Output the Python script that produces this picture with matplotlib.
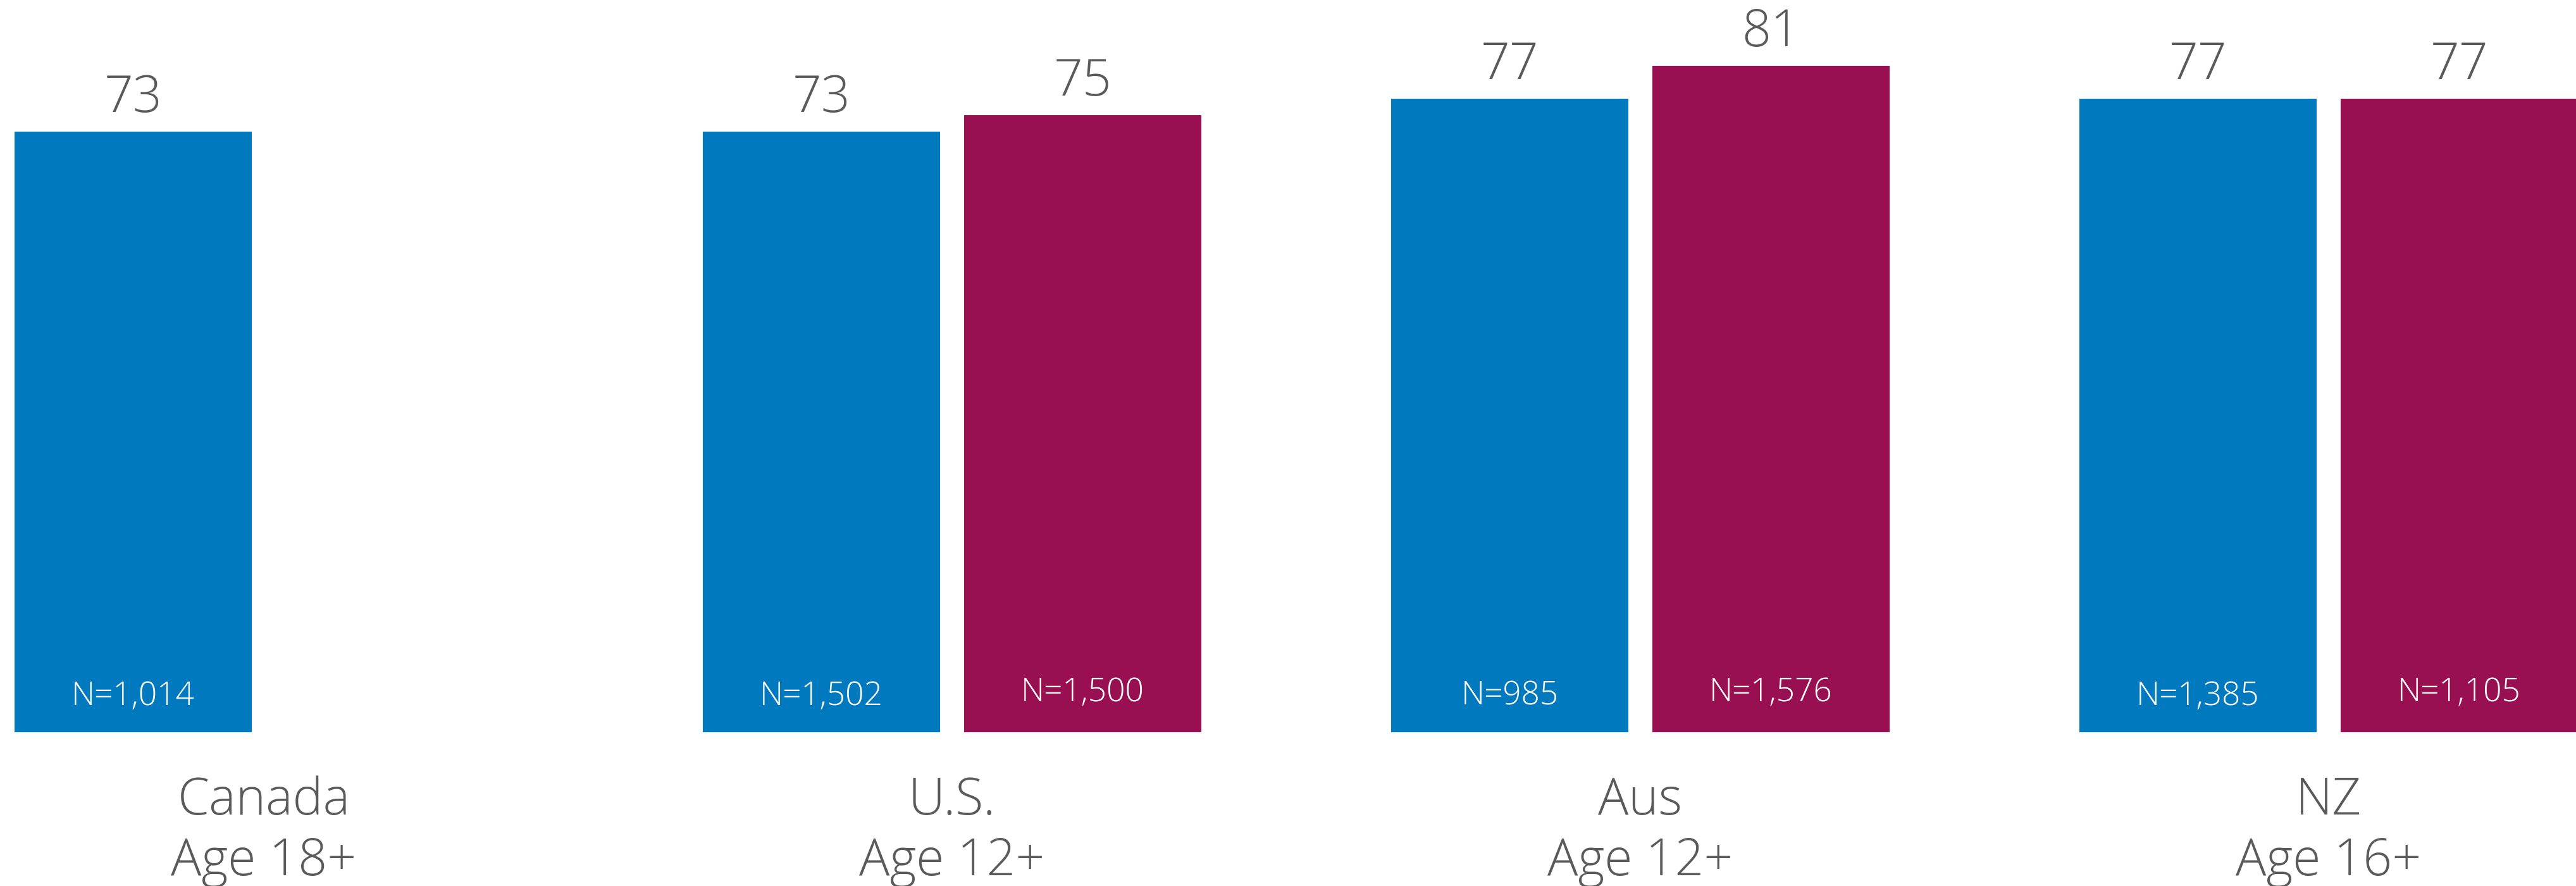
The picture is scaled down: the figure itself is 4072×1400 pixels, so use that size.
import matplotlib
matplotlib.use("Agg")
import matplotlib.pyplot as plt

# Survey groups and their values
countries = ["Canada", "U.S.", "Aus", "NZ"]
ages = ["Age 18+", "Age 12+", "Age 12+", "Age 16+"]
series_a = [73, 73, 77, 77]
series_b = [None, 75, 81, 77]
n_a = ["N=1,014", "N=1,502", "N=985", "N=1,385"]
n_b = [None, "N=1,500", "N=1,576", "N=1,105"]

BLUE = "#0079BF"
MAGENTA = "#981052"
GREY = "#5A5A5A"

plt.rcParams["font.family"] = ["Open Sans", "DejaVu Sans"]
WEIGHT = "light"
BIG = 58
SMALL = 37

W, H, DPI = 4072, 1400, 100
fig = plt.figure(figsize=(W / DPI, H / DPI), dpi=DPI)
fig.patch.set_facecolor("white")

# axes: baseline 243 px above bottom, 13 px per unit
ax = fig.add_axes([0, 243 / H, 1, 1157 / H])
ax.set_ylim(0, 1157 / 13)
pitch = 1088.0
ax.set_xlim(-417 / pitch, (W - 417) / pitch)
ax.axis("off")

bw = 375 / pitch
off = 413 / pitch / 2

for i in range(len(countries)):
    xa = i - off
    ax.bar(xa, series_a[i], width=bw, color=BLUE, linewidth=0)
    ax.annotate(str(series_a[i]), (xa, series_a[i]), xytext=(0, 22),
                textcoords="offset points", ha="center", va="baseline",
                fontsize=BIG, color=GREY, fontweight=WEIGHT)
    ax.annotate(n_a[i], (xa, 0), xytext=(0, 31), textcoords="offset points",
                ha="center", va="baseline", fontsize=SMALL, color="white",
                fontweight=WEIGHT)
    if series_b[i] is not None:
        xb = i + off
        ax.bar(xb, series_b[i], width=bw, color=MAGENTA, linewidth=0)
        ax.annotate(str(series_b[i]), (xb, series_b[i]), xytext=(0, 22),
                    textcoords="offset points", ha="center", va="baseline",
                    fontsize=BIG, color=GREY, fontweight=WEIGHT)
        ax.annotate(n_b[i], (xb, 0), xytext=(0, 35), textcoords="offset points",
                    ha="center", va="baseline", fontsize=SMALL, color="white",
                    fontweight=WEIGHT)
    # group labels below the bars
    ax.annotate(countries[i], (i, 0), xytext=(0, -(1287 - 1157) / DPI * 72),
                textcoords="offset points", ha="center", va="baseline",
                fontsize=BIG, color=GREY, fontweight=WEIGHT, annotation_clip=False)
    ax.annotate(ages[i], (i, 0), xytext=(0, -(1383 - 1157) / DPI * 72),
                textcoords="offset points", ha="center", va="baseline",
                fontsize=BIG, color=GREY, fontweight=WEIGHT, annotation_clip=False)

fig.savefig("out.png", dpi=DPI, facecolor="white")
